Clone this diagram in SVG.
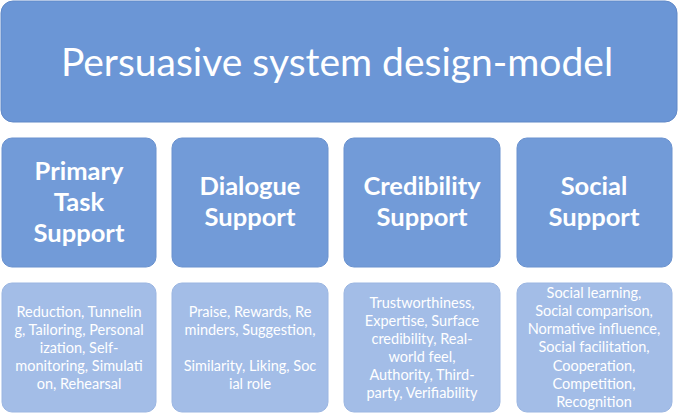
<svg xmlns="http://www.w3.org/2000/svg" width="679" height="416" viewBox="0 0 679 416">
<style>
.top{fill:#6b96d6;stroke:#6189c8;stroke-width:1}
.mid{fill:#729bd8;stroke:#6a92cf;stroke-width:1}
.bot{fill:#a3bde7;stroke:#9bb6e2;stroke-width:1}
text{font-family:Lato,"Open Sans",sans-serif;fill:#ffffff;text-anchor:middle}
.t{font-size:39px}
.h{font-size:25.5px;font-weight:bold}
.s{font-size:14.5px}
</style>
<rect width="679" height="416" fill="#ffffff"/>
<g id="title">
<rect class="top" x="1" y="1" width="676" height="121" rx="12"/>
<text class="t" x="337" y="76">Persuasive system design-model</text>
</g>
<g id="primary">
<rect class="mid" x="2" y="138" width="154" height="129" rx="10"/>
<text class="h" x="79" y="180">Primary</text>
<text class="h" x="79" y="211">Task</text>
<text class="h" x="79" y="242">Support</text>
</g>
<g id="dialogue">
<rect class="mid" x="172" y="138" width="156" height="129" rx="10"/>
<text class="h" x="250" y="195">Dialogue</text>
<text class="h" x="250" y="226">Support</text>
</g>
<g id="credibility">
<rect class="mid" x="344" y="138" width="156" height="129" rx="10"/>
<text class="h" x="422" y="195">Credibility</text>
<text class="h" x="422" y="226">Support</text>
</g>
<g id="social">
<rect class="mid" x="517" y="138" width="155" height="129" rx="10"/>
<text class="h" x="594" y="195">Social</text>
<text class="h" x="594" y="226">Support</text>
</g>
<g id="primary-list">
<rect class="bot" x="2" y="283" width="154" height="129" rx="10"/>
<text class="s" x="79" y="317">Reduction, Tunnelin</text>
<text class="s" x="79" y="335">g, Tailoring, Personal</text>
<text class="s" x="79" y="353">ization, Self-</text>
<text class="s" x="79" y="371">monitoring,  Simulati</text>
<text class="s" x="79" y="389">on, Rehearsal</text>
</g>
<g id="dialogue-list">
<rect class="bot" x="172" y="283" width="156" height="129" rx="10"/>
<text class="s" x="250" y="317">Praise, Rewards, Re</text>
<text class="s" x="250" y="335">minders, Suggestion,</text>
<text class="s" x="250" y="371">Similarity, Liking, Soc</text>
<text class="s" x="250" y="389">ial role</text>
</g>
<g id="credibility-list">
<rect class="bot" x="344" y="283" width="156" height="129" rx="10"/>
<text class="s" x="422" y="308">Trustworthiness,</text>
<text class="s" x="422" y="326">Expertise, Surface</text>
<text class="s" x="422" y="344">credibility, Real-</text>
<text class="s" x="422" y="362">world feel,</text>
<text class="s" x="422" y="380">Authority, Third-</text>
<text class="s" x="422" y="398">party, Verifiability</text>
</g>
<g id="social-list">
<rect class="bot" x="517" y="283" width="155" height="129" rx="10"/>
<text class="s" x="594" y="298">Social learning,</text>
<text class="s" x="594" y="316">Social comparison,</text>
<text class="s" x="594" y="334">Normative influence,</text>
<text class="s" x="594" y="352">Social facilitation,</text>
<text class="s" x="594" y="371">Cooperation,</text>
<text class="s" x="594" y="389">Competition,</text>
<text class="s" x="594" y="407">Recognition</text>
</g>
<g id="connectors"></g>
</svg>
